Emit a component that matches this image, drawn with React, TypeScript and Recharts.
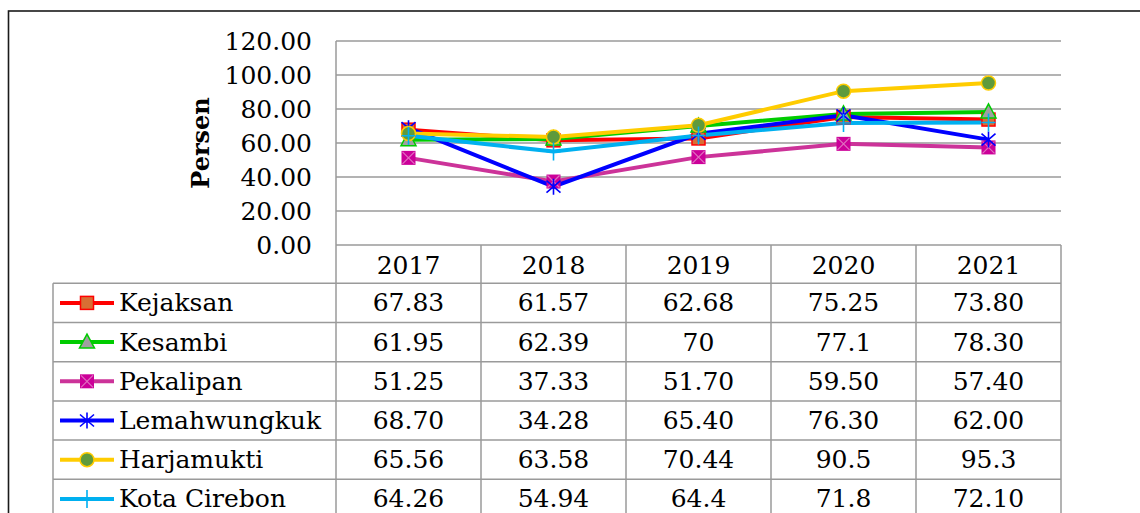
import React from "react";
import {
  CartesianGrid,
  Line,
  LineChart,
  XAxis,
  YAxis,
} from "recharts";

// values as printed in the table below the chart
const years = ["2017", "2018", "2019", "2020", "2021"];
const kejaksan = ["67.83", "61.57", "62.68", "75.25", "73.80"];
const kesambi = ["61.95", "62.39", "70", "77.1", "78.30"];
const pekalipan = ["51.25", "37.33", "51.70", "59.50", "57.40"];
const lemahwungkuk = ["68.70", "34.28", "65.40", "76.30", "62.00"];
const harjamukti = ["65.56", "63.58", "70.44", "90.5", "95.3"];
const kotaCirebon = ["64.26", "54.94", "64.4", "71.8", "72.10"];
const yTicks = [0, 20, 40, 60, 80, 100, 120];

type Shape = "square" | "triangle" | "xsquare" | "star" | "circle" | "plus";

const series: { key: string; name: string; values: string[]; color: string; shape: Shape }[] = [
  { key: "kejaksan", name: "Kejaksan", values: kejaksan, color: "#ff0000", shape: "square" },
  { key: "kesambi", name: "Kesambi", values: kesambi, color: "#00cc00", shape: "triangle" },
  { key: "pekalipan", name: "Pekalipan", values: pekalipan, color: "#cc3399", shape: "xsquare" },
  { key: "lemahwungkuk", name: "Lemahwungkuk", values: lemahwungkuk, color: "#0000ff", shape: "star" },
  { key: "harjamukti", name: "Harjamukti", values: harjamukti, color: "#ffcc00", shape: "circle" },
  { key: "kotaCirebon", name: "Kota Cirebon", values: kotaCirebon, color: "#00b0f0", shape: "plus" },
];

const data = years.map((y, i) => {
  const row: Record<string, string | number> = { year: y };
  series.forEach((s) => (row[s.key] = Number(s.values[i])));
  return row;
});

const FONT = "'DejaVu Serif', 'Liberation Serif', serif";
const FS = 25;
const GRID = "#9a9a9a";

// chart geometry
const W = 1140;
const H = 513;
const PLOT_L = 336;
const PLOT_R = 1061;
const PLOT_T = 41;
const PLOT_B = 245;
const COL_W = (PLOT_R - PLOT_L) / years.length;
const HEAD_B = 283.3;
const ROW_H = 39.2;
const LEG_L = 53;

function Marker({ shape, x, y, color }: { shape: Shape; x: number; y: number; color: string }) {
  switch (shape) {
    case "square":
      return <rect x={x - 6.5} y={y - 6.5} width={13} height={13} fill="#d86e34" stroke={color} strokeWidth={1.5} />;
    case "triangle":
      return (
        <polygon
          points={`${x},${y - 8} ${x + 7.5},${y + 6} ${x - 7.5},${y + 6}`}
          fill="#a0a0a0"
          stroke={color}
          strokeWidth={1.5}
        />
      );
    case "xsquare":
      return (
        <g>
          <rect x={x - 7} y={y - 7} width={14} height={14} fill="#cc0099" />
          <path d={`M${x - 6},${y - 6}L${x + 6},${y + 6}M${x + 6},${y - 6}L${x - 6},${y + 6}`} stroke="#e070c0" strokeWidth={1.2} />
        </g>
      );
    case "star":
      return (
        <path
          d={`M${x},${y - 8}L${x},${y + 8}M${x - 7},${y - 6}L${x + 7},${y + 6}M${x + 7},${y - 6}L${x - 7},${y + 6}`}
          stroke={color}
          strokeWidth={1.6}
        />
      );
    case "circle":
      return <circle cx={x} cy={y} r={7} fill="#5f9a3c" stroke={color} strokeWidth={1.5} />;
    case "plus":
      return <path d={`M${x},${y - 9}L${x},${y + 9}M${x - 7},${y}L${x + 7},${y}`} stroke={color} strokeWidth={1.6} />;
  }
}

const YTick = (props: any) => {
  const { y, payload } = props;
  return (
    <text x={PLOT_L - 24} y={y} textAnchor="end" dominantBaseline="central" fontFamily={FONT} fontSize={FS} fill="#000">
      {Number(payload.value).toFixed(2)}
    </text>
  );
};

function Table() {
  const rowsBottom = HEAD_B + ROW_H * (series.length + 1);
  const colEdges = years.map((_, i) => PLOT_L + COL_W * i).concat([PLOT_R]);
  return (
    <svg width={W} height={H} style={{ position: "absolute", left: 0, top: 0, pointerEvents: "none" }}>
      <rect x={8.5} y={11} width={W + 20} height={H + 20} fill="none" stroke="#1a1a1a" strokeWidth={1.6} />
      {colEdges.map((cx, i) => (
        <line key={i} x1={cx} x2={cx} y1={PLOT_B} y2={rowsBottom} stroke={GRID} strokeWidth={1.5} />
      ))}
      <line x1={LEG_L} x2={LEG_L} y1={HEAD_B} y2={rowsBottom} stroke={GRID} strokeWidth={1.5} />
      {series.map((_, i) => (
        <line key={i} x1={LEG_L} x2={PLOT_R} y1={HEAD_B + ROW_H * i} y2={HEAD_B + ROW_H * i} stroke={GRID} strokeWidth={1.5} />
      ))}
      {years.map((yr, j) => (
        <text
          key={yr}
          x={PLOT_L + COL_W * (j + 0.5)}
          y={(PLOT_B + HEAD_B) / 2 + 1}
          textAnchor="middle"
          dominantBaseline="central"
          fontFamily={FONT}
          fontSize={FS}
          fill="#000"
        >
          {yr}
        </text>
      ))}
      {series.map((s, i) => {
        const cy = HEAD_B + ROW_H * i + ROW_H / 2;
        return (
          <g key={s.key}>
            <line x1={60} x2={114} y1={cy} y2={cy} stroke={s.color} strokeWidth={4} />
            <Marker shape={s.shape} x={87} y={cy} color={s.color} />
            <text x={119} y={cy} dominantBaseline="central" fontFamily={FONT} fontSize={FS} fill="#000">
              {s.name}
            </text>
            {s.values.map((v, j) => (
              <text
                key={j}
                x={PLOT_L + COL_W * (j + 0.5)}
                y={cy}
                textAnchor="middle"
                dominantBaseline="central"
                fontFamily={FONT}
                fontSize={FS}
                fill="#000"
              >
                {v}
              </text>
            ))}
          </g>
        );
      })}
      <text
        transform={`translate(200,${(PLOT_T + PLOT_B) / 2}) rotate(-90)`}
        textAnchor="middle"
        dominantBaseline="central"
        fontFamily={FONT}
        fontWeight="bold"
        fontSize={24}
        fill="#000"
      >
        Persen
      </text>
    </svg>
  );
}

export default function App() {
  const yAxisW = 60;
  return (
    <div style={{ position: "fixed", left: 0, top: 0, width: W, height: H, background: "#fff" }}>
      <LineChart
        width={W}
        height={H}
        data={data}
        margin={{ top: PLOT_T, left: PLOT_L - yAxisW, right: W - PLOT_R, bottom: H - PLOT_B }}
      >
        <CartesianGrid vertical={false} stroke={GRID} strokeWidth={1.5} />
        <XAxis dataKey="year" hide padding={{ left: COL_W / 2, right: COL_W / 2 }} />
        <YAxis
          width={yAxisW}
          domain={[0, 120]}
          ticks={yTicks}
          axisLine={{ stroke: GRID, strokeWidth: 1.5 }}
          tickLine={false}
          tick={<YTick />}
          interval={0}
        />
        {series.map((s) => (
          <Line
            key={s.key}
            dataKey={s.key}
            name={s.name}
            stroke={s.color}
            strokeWidth={4}
            isAnimationActive={false}
            dot={(p: any) => <Marker key={`${s.key}-${p.index}`} shape={s.shape} x={p.cx} y={p.cy} color={s.color} />}
            activeDot={false}
          />
        ))}
      </LineChart>
      <Table />
    </div>
  );
}
